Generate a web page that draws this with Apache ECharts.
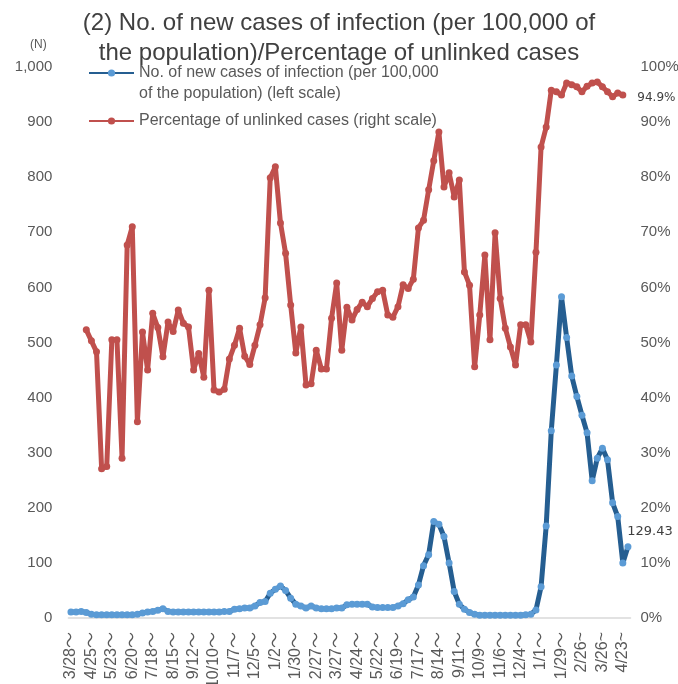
<!DOCTYPE html>
<html>
<head>
<meta charset="utf-8">
<script src="https://cdn.jsdelivr.net/npm/echarts@6/dist/echarts.min.js"></script>
<style>
html,body{margin:0;padding:0;background:#fff;}
#chart{width:678px;height:684px;}
</style>
</head>
<body>
<div id="chart"></div>
<script>
// Weekly categories (week starting dates), 2020/3/28 .. 2022/4/30
const categories = [
"2020/3/28","2020/4/4","2020/4/11","2020/4/18","2020/4/25","2020/5/2","2020/5/9","2020/5/16","2020/5/23","2020/5/30",
"2020/6/6","2020/6/13","2020/6/20","2020/6/27","2020/7/4","2020/7/11","2020/7/18","2020/7/25","2020/8/1","2020/8/8",
"2020/8/15","2020/8/22","2020/8/29","2020/9/5","2020/9/12","2020/9/19","2020/9/26","2020/10/3","2020/10/10","2020/10/17",
"2020/10/24","2020/10/31","2020/11/7","2020/11/14","2020/11/21","2020/11/28","2020/12/5","2020/12/12","2020/12/19","2020/12/26",
"2021/1/2","2021/1/9","2021/1/16","2021/1/23","2021/1/30","2021/2/6","2021/2/13","2021/2/20","2021/2/27","2021/3/6",
"2021/3/13","2021/3/20","2021/3/27","2021/4/3","2021/4/10","2021/4/17","2021/4/24","2021/5/1","2021/5/8","2021/5/15",
"2021/5/22","2021/5/29","2021/6/5","2021/6/12","2021/6/19","2021/6/26","2021/7/3","2021/7/10","2021/7/17","2021/7/24",
"2021/7/31","2021/8/7","2021/8/14","2021/8/21","2021/8/28","2021/9/4","2021/9/11","2021/9/18","2021/9/25","2021/10/2",
"2021/10/9","2021/10/16","2021/10/23","2021/10/30","2021/11/6","2021/11/13","2021/11/20","2021/11/27","2021/12/4","2021/12/11",
"2021/12/18","2021/12/25","2022/1/1","2022/1/8","2022/1/15","2022/1/22","2022/1/29","2022/2/5","2022/2/12","2022/2/19",
"2022/2/26","2022/3/5","2022/3/12","2022/3/19","2022/3/26","2022/4/2","2022/4/9","2022/4/16","2022/4/23","2022/4/30"
];

// Tick labels shown every 4 weeks
const tickLabels = ["3/28～","4/25～","5/23～","6/20～","7/18～","8/15～","9/12～","10/10～","11/7～","12/5～",
"1/2～","1/30～","2/27～","3/27～","4/24～","5/22～","6/19～","7/17～","8/14～","9/11～",
"10/9～","11/6～","12/4～","1/1～","1/29～","2/26~","3/26~","4/23~"];

// No. of new cases of infection per 100,000 (left scale)
const newCases = [
11,11,12,10,7,6,6,6,6,6,
6,6,6,7,9,11,12,14,17,12,
11,11,11,11,11,11,11,11,11,11,
12,12,16,17,18,18,22,28,30,45,
52,58,50,36,25,22,18,22,18,17,
17,17,18,18,24,25,25,25,25,20,
19,19,19,19,22,26,33,38,60,95,
115,175,170,148,100,48,25,16,10,7,
5,5,5,5,5,5,5,5,5,6,
7,14.5,56.8,167,340,459,583,509,439,402,
368,336,249,290,308,287,209,184,100,129.43
];

// Percentage of unlinked cases (right scale, %)
const unlinkedPct = [
null,null,null,52.3,50.3,48.3,27.1,27.5,50.5,50.5,
29.0,67.7,71.0,35.6,51.9,45.0,55.3,52.7,47.4,53.7,
52.0,55.9,53.5,52.8,45.0,48.0,43.7,59.5,41.4,41.0,
41.5,47.0,49.5,52.6,47.5,46.0,49.5,53.2,58.1,79.9,
81.9,71.7,66.2,56.8,48.1,52.8,42.3,42.5,48.6,45.2,
45.2,54.4,60.8,48.6,56.4,54.1,56.0,57.3,56.5,58.0,
59.2,59.5,55.0,54.6,56.5,60.5,59.8,61.5,70.8,72.2,
77.7,83.0,88.2,78.2,80.8,76.4,79.5,62.8,60.4,45.6,
55.0,65.9,50.5,69.9,58.0,52.6,49.2,45.9,53.2,53.2,
50.1,66.4,85.5,89.1,95.8,95.5,94.9,97.1,96.8,96.4,
95.5,96.5,97.1,97.3,96.4,95.5,94.6,95.3,94.9,null
];

const blueName = "No. of new cases of infection (per 100,000\nof the population) (left scale)";
const redName = "Percentage of unlinked cases (right scale)";
const FONT = "'Liberation Sans', Arial, 'Noto Sans CJK JP', sans-serif";

// Label only the last point of each series
const lastBlue = newCases.length - 1;
let lastRed = unlinkedPct.length - 1;
while (unlinkedPct[lastRed] == null) lastRed--;

const blueData = newCases.map((v, i) => i === lastBlue ? {
  value: v,
  label: { show: true, position: 'top', offset: [22, 0], formatter: '{c}',
           fontFamily: "'DejaVu Sans', sans-serif", fontSize: 13, color: '#404040' }
} : v);
const redData = unlinkedPct.map((v, i) => i === lastRed ? {
  value: v,
  label: { show: true, position: 'right', distance: 11, offset: [0, 3], formatter: '{c}%',
           fontFamily: "'DejaVu Sans', sans-serif", fontSize: 12, color: '#404040' }
} : v);

const chart = echarts.init(document.getElementById('chart'), null, { renderer: 'canvas' });
chart.setOption({
  animation: false,
  backgroundColor: '#ffffff',
  title: {
    text: "(2) No. of new cases of infection (per 100,000 of\nthe population)/Percentage of unlinked cases",
    left: 'center', top: 3,
    textStyle: { fontFamily: FONT, fontSize: 24, fontWeight: 'normal', color: '#404040', lineHeight: 30 }
  },
  legend: {
    orient: 'vertical', left: 88, top: 41.5, padding: 0, itemGap: 6,
    itemWidth: 45, itemHeight: 9,
    data: [blueName, redName],
    formatter: name => name === blueName ? ' \n' + name : name,
    textStyle: { fontFamily: FONT, fontSize: 16, color: '#595959', lineHeight: 21 }
  },
  graphic: [{
    type: 'text', left: 30, top: 39,
    style: { text: '(N)', fontFamily: FONT, fontSize: 12, fill: '#595959' }
  }],
  grid: { left: 68.4, right: 47.5, top: 67, bottom: 66, containLabel: false, outerBoundsMode: 'none' },
  xAxis: {
    type: 'category', data: categories, boundaryGap: true,
    axisLine: { lineStyle: { color: '#d9d9d9', width: 1.5 } },
    axisTick: { show: false },
    axisLabel: {
      interval: 3, rotate: 90, margin: 14, fontFamily: FONT, fontSize: 16, color: '#595959',
      formatter: (v, i) => tickLabels[Math.round(i / 4)] || ''
    },
    splitLine: { show: false }
  },
  yAxis: [{
    type: 'value', min: 0, max: 1000, interval: 100, position: 'left',
    axisLine: { show: false }, axisTick: { show: false }, splitLine: { show: false },
    axisLabel: { fontFamily: FONT, fontSize: 15, color: '#595959', margin: 16,
                 formatter: v => v.toLocaleString('en-US') }
  }, {
    type: 'value', min: 0, max: 100, interval: 10, position: 'right',
    axisLine: { show: false }, axisTick: { show: false }, splitLine: { show: false },
    axisLabel: { fontFamily: FONT, fontSize: 15, color: '#595959', margin: 10, formatter: '{value}%' }
  }],
  series: [{
    name: blueName, type: 'line', yAxisIndex: 0, data: blueData,
    symbol: 'circle', symbolSize: 7, showAllSymbol: true,
    lineStyle: { color: '#255E91', width: 5 },
    itemStyle: { color: '#5B9BD5' },
    z: 3
  }, {
    name: redName, type: 'line', yAxisIndex: 1, data: redData,
    symbol: 'circle', symbolSize: 7, showAllSymbol: true,
    lineStyle: { color: '#C0504D', width: 5 },
    itemStyle: { color: '#C0504D' },
    z: 2
  }]
});
</script>
</body>
</html>
